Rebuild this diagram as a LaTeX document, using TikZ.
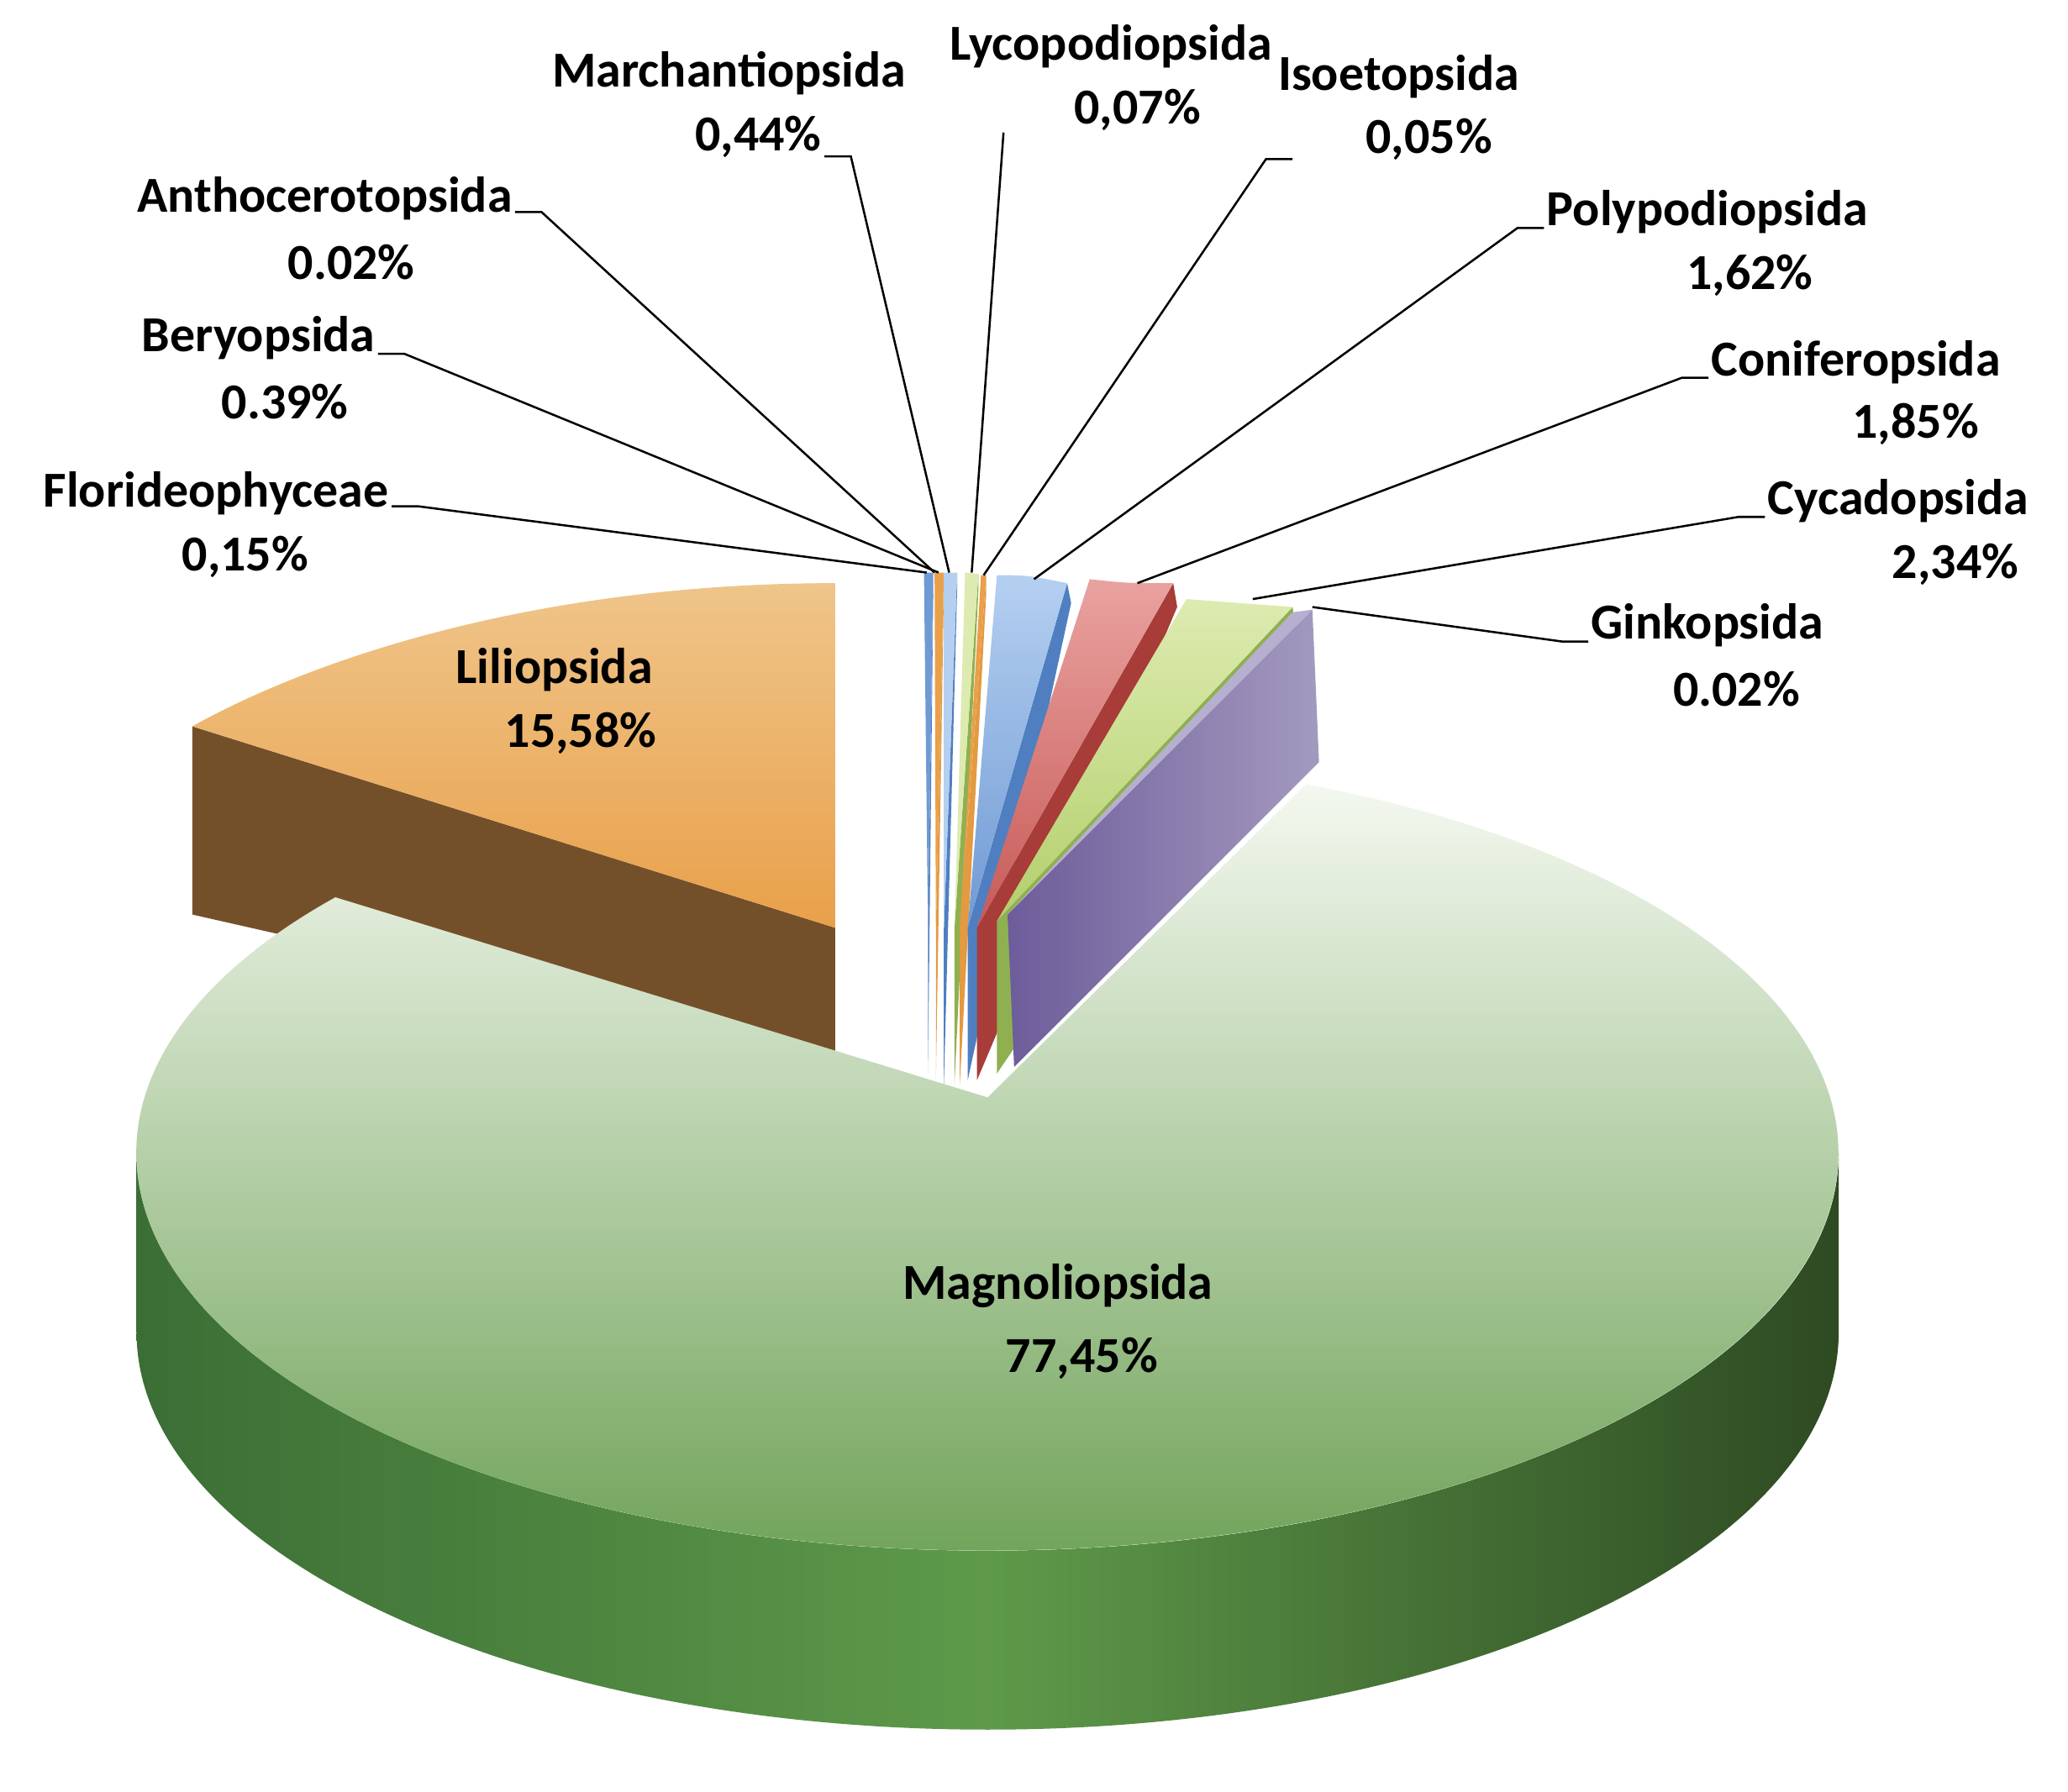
\documentclass[tikz,border=0pt]{standalone}
\usepackage{fontspec}
\setmainfont{Carlito}
\definecolor{gT1}{HTML}{F4F8F0}\definecolor{gT2}{HTML}{6A9F52}
\definecolor{gS1}{HTML}{3B6E35}\definecolor{gS2}{HTML}{5E9A4A}\definecolor{gS3}{HTML}{2E4A22}
\definecolor{oT1}{HTML}{EFC58A}\definecolor{oT2}{HTML}{E9A04A}\definecolor{oS}{HTML}{74502A}
\definecolor{pS1}{HTML}{6D5C9A}\definecolor{pS2}{HTML}{A39ABF}\definecolor{pT}{HTML}{B7AFD0}
\definecolor{rT1}{HTML}{E9A2A0}\definecolor{rT2}{HTML}{C75A57}\definecolor{rS}{HTML}{A83C38}
\definecolor{bT1}{HTML}{B5CFF0}\definecolor{bT2}{HTML}{6F9AD4}\definecolor{bS}{HTML}{4F7FC0}
\definecolor{lT1}{HTML}{DDEBB0}\definecolor{lT2}{HTML}{B3CF6C}\definecolor{lS}{HTML}{8FB050}
\definecolor{yO}{HTML}{E39A40}
\begin{document}
\begin{tikzpicture}[x=1pt,y=-1pt,
  lab/.style={font=\fontsize{38}{42}\selectfont\bfseries,inner sep=2pt},
  lead/.style={draw=black,line width=1.6pt}]
\useasboundingbox (0,0) rectangle (1560,1352);
% Liliopsida
\fill[oS] (145,548) -- (630,700) -- (630,800) -- (145,690) -- cycle;
\shade[top color=oT1, bottom color=oT2] (630,440) .. controls (420,440) and (250,490) .. (145,548) -- (630,700) -- cycle;
% small slices: sides then tops
\fill[bS] (700,700)--(704,432)--(704,445)--(700,810)--cycle;
\fill[yO] (706,700)--(712,432)--(712,445)--(706,815)--cycle;
\fill[bS] (712,700)--(722,432)--(722,445)--(712,818)--cycle;
\fill[lS] (720,700)--(738,433)--(738,446)--(720,818)--cycle;
\fill[yO] (724,700)--(744,434)--(744,447)--(724,818)--cycle;
\fill[bS] (730,700)--(805,440)--(808,455)--(730,815)--cycle;
\fill[rS] (737,700)--(885,440)--(888,458)--(737,815)--cycle;
\fill[lS] (752,695)--(975,458)--(978,478)--(752,810)--cycle;
\shade[left color=pS1, right color=pS2] (760,690)--(990,460)--(995,575)--(765,805)--cycle;
\fill[bT2] (700,700)--(697,432)--(704,432)--cycle;
\fill[oT2] (706,700)--(705,432)--(712,432)--cycle;
\fill[bT1] (712,700)--(712,432)--(722,432)--cycle;
\fill[lT1] (720,700)--(728,432)--(738,433)--cycle;
\fill[oT2] (724,700)--(740,434)--(744,434)--cycle;
\shade[top color=bT1, bottom color=bT2] (730,700)--(752,434) .. controls (775,434) .. (805,440)--cycle;
\shade[top color=rT1, bottom color=rT2] (737,700)--(822,437) .. controls (850,440) .. (885,440)--cycle;
\shade[top color=lT1, bottom color=lT2] (752,695)--(895,452) .. controls (935,455) .. (975,458)--cycle;
\fill[pT] (760,690)--(975,462)--(990,460)--cycle;
% Magnoliopsida
\shade[left color=gS1, right color=gS3, middle color=gS2] (103,870) arc[start angle=180,end angle=0,x radius=642,y radius=300] -- (1387,1005) arc[start angle=0,end angle=180,x radius=642,y radius=300] -- cycle;
\shade[top color=gT1, bottom color=gT2] (745,828) -- (253,677) arc[start angle=220,end angle=-68,x radius=642,y radius=300] -- cycle;
% labels
\node[lab] (mag) at (798,970) {Magnoliopsida};
\node[lab] (magv) at (816,1025) {77,45\%};
\node[lab] (lil) at (418,505) {Liliopsida};
\node[lab] (lilv) at (438,553) {15,58\%};
\node[lab] (mar) at (550,55) {Marchantiopsida};
\node[lab] (marv) at (572,103) {0,44\%};
\node[lab] (lyc) at (838,35) {Lycopodiopsida};
\node[lab] (lycv) at (858,83) {0,07\%};
\node[lab] (iso) at (1055,58) {Isoetopsida};
\node[lab] (isov) at (1078,105) {0,05\%};
\node[lab] (pol) at (1288,160) {Polypodiopsida};
\node[lab] (polv) at (1320,208) {1,62\%};
\node[lab] (con) at (1400,273) {Coniferopsida};
\node[lab] (conv) at (1445,320) {1,85\%};
\node[lab] (cyc) at (1432,378) {Cycadopsida};
\node[lab] (cycv) at (1475,426) {2,34\%};
\node[lab] (gin) at (1288,472) {Ginkopsida};
\node[lab] (ginv) at (1310,520) {0.02\%};
\node[lab] (ant) at (245,150) {Anthocerotopsida};
\node[lab] (antv) at (265,198) {0.02\%};
\node[lab] (ber) at (195,255) {Beryopsida};
\node[lab] (berv) at (215,303) {0.39\%};
\node[lab] (flo) at (163,372) {Florideophyceae};
\node[lab] (flov) at (185,420) {0,15\%};
% leader targets
\coordinate (tflo) at (699,432);
\coordinate (tant) at (705,432);
\coordinate (tber) at (708,432);
\coordinate (tmar) at (716,432);
\coordinate (tlyc) at (733,432);
\coordinate (tiso) at (742,434);
\coordinate (tpol) at (780,437);
\coordinate (tcon) at (858,440);
\coordinate (tcyc) at (945,452);
\coordinate (tgin) at (990,458);
\coordinate (kiso) at (975,120);
\coordinate (klyc) at (757,100);
\draw[lead] (marv.east) ++(0,15) -- ++(20,0) -- (tmar);
\draw[lead] (klyc) -- (tlyc);
\draw[lead] (kiso) -- ++(-20,0) -- (tiso);
\draw[lead] (pol.west) ++(0,12) -- ++(-20,0) -- (tpol);
\draw[lead] (con.west) ++(0,12) -- ++(-20,0) -- (tcon);
\draw[lead] (cyc.west) ++(0,12) -- ++(-20,0) -- (tcyc);
\draw[lead] (gin.west) ++(0,12) -- ++(-20,0) -- (tgin);
\draw[lead] (ant.east) ++(0,10) -- ++(20,0) -- (tant);
\draw[lead] (ber.east) ++(0,12) -- ++(20,0) -- (tber);
\draw[lead] (flo.east) ++(0,10) -- ++(20,0) -- (tflo);
\end{tikzpicture}
\end{document}
